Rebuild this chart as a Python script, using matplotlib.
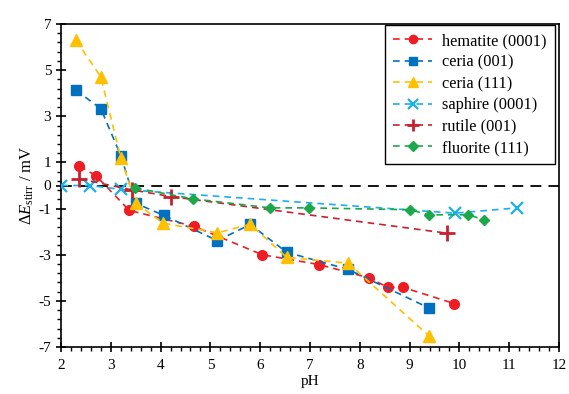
"""
Stirring potential difference vs pH for several oxide surfaces
"""
import numpy as np
import matplotlib
matplotlib.use("Agg")
import matplotlib.pyplot as plt
from matplotlib.ticker import MultipleLocator, FixedLocator

plt.rcParams["font.family"] = ["Liberation Serif", "DejaVu Serif"]
plt.rcParams["font.size"] = 11
plt.rcParams["axes.unicode_minus"] = False
plt.rcParams["mathtext.fontset"] = "custom"
plt.rcParams["mathtext.rm"] = "Liberation Serif"
plt.rcParams["mathtext.it"] = "Liberation Serif:italic"

# data
hematite_ph = [2.37, 2.70, 3.37, 4.67, 6.04, 7.19, 8.18, 8.56, 8.86, 9.90]
hematite_de = [0.84, 0.43, -1.08, -1.77, -3.00, -3.43, -4.00, -4.41, -4.41, -5.12]

ceria001_ph = [2.30, 2.80, 3.20, 3.50, 4.07, 5.14, 5.80, 6.53, 7.77, 9.39]
ceria001_de = [4.13, 3.33, 1.30, -0.77, -1.30, -2.39, -1.69, -2.89, -3.64, -5.31]

ceria111_ph = [2.30, 2.80, 3.20, 3.50, 4.05, 5.14, 5.80, 6.53, 7.77, 9.39]
ceria111_de = [6.30, 4.70, 1.20, -0.75, -1.63, -2.05, -1.68, -3.11, -3.37, -6.52]

saphire_ph = [2.01, 2.58, 3.21, 9.91, 11.16]
saphire_de = [0.0, 0.0, -0.17, -1.20, -0.97]

rutile_ph = [2.37, 3.42, 4.21, 9.76]
rutile_de = [0.29, -0.19, -0.48, -2.07]

fluorite_ph = [3.49, 4.66, 6.20, 6.97, 9.01, 9.39, 10.18, 10.50]
fluorite_de = [-0.11, -0.58, -0.97, -0.97, -1.05, -1.27, -1.27, -1.49]

series = [
    ("hematite (0001)", hematite_ph, hematite_de, "#EE1D23", "o", 7, 1),
    ("ceria (001)", ceria001_ph, ceria001_de, "#0070C0", "s", 6.5, 1),
    ("ceria (111)", ceria111_ph, ceria111_de, "#FFC000", "^", 9, 1),
    ("saphire (0001)", saphire_ph, saphire_de, "#1AB0EE", "x", 8, 1.6),
    ("rutile (001)", rutile_ph, rutile_de, "#C8202F", "+", 11, 2.0),
    ("fluorite (111)", fluorite_ph, fluorite_de, "#1BA84A", "D", 5.5, 1),
]

fig = plt.figure(figsize=(5.69, 3.94), dpi=100)
ax = fig.add_axes([61 / 569, 47 / 394, 498 / 569, 323 / 394])

ax.axhline(0, color="black", lw=1.3, linestyle=(0, (6, 4)), zorder=1)

for name, x, y, col, mk, ms, mew in series:
    ax.plot(x, y, linestyle=(0, (4, 3)), lw=1.2, color=col, marker=mk,
            markersize=ms, markeredgewidth=mew, label=name, zorder=3)

ax.set_xlim(2, 12)
ax.set_ylim(-7, 7)
ax.xaxis.set_major_locator(MultipleLocator(1))
ax.xaxis.set_minor_locator(MultipleLocator(0.2))
ax.yaxis.set_major_locator(FixedLocator([-7, -5, -3, -1, 0, 1, 3, 5, 7]))
ax.yaxis.set_minor_locator(FixedLocator(np.arange(-7, 7.01, 0.4)))
ax.tick_params(which="major", direction="inout", length=7, width=1.2)
ax.tick_params(which="minor", direction="out", length=3, width=1)
ax.tick_params(axis="x", which="major", pad=5)
for s in ax.spines.values():
    s.set_linewidth(1.2)

ax.set_xlabel("pH", labelpad=2)
ax.set_ylabel(r"$\Delta\it{E}_{\rm stirr}$ / mV", fontsize=12, labelpad=2)

leg = ax.legend(loc="upper right", bbox_to_anchor=(0.992, 0.997), borderaxespad=0,
                handlelength=2.4, handletextpad=0.6, fancybox=False, framealpha=1,
                labelspacing=0.33, fontsize=11.8, borderpad=0.5, markerscale=0.85)
leg.get_frame().set_edgecolor("black")
leg.get_frame().set_linewidth(1.0)

fig.savefig("out.png", dpi=100)
